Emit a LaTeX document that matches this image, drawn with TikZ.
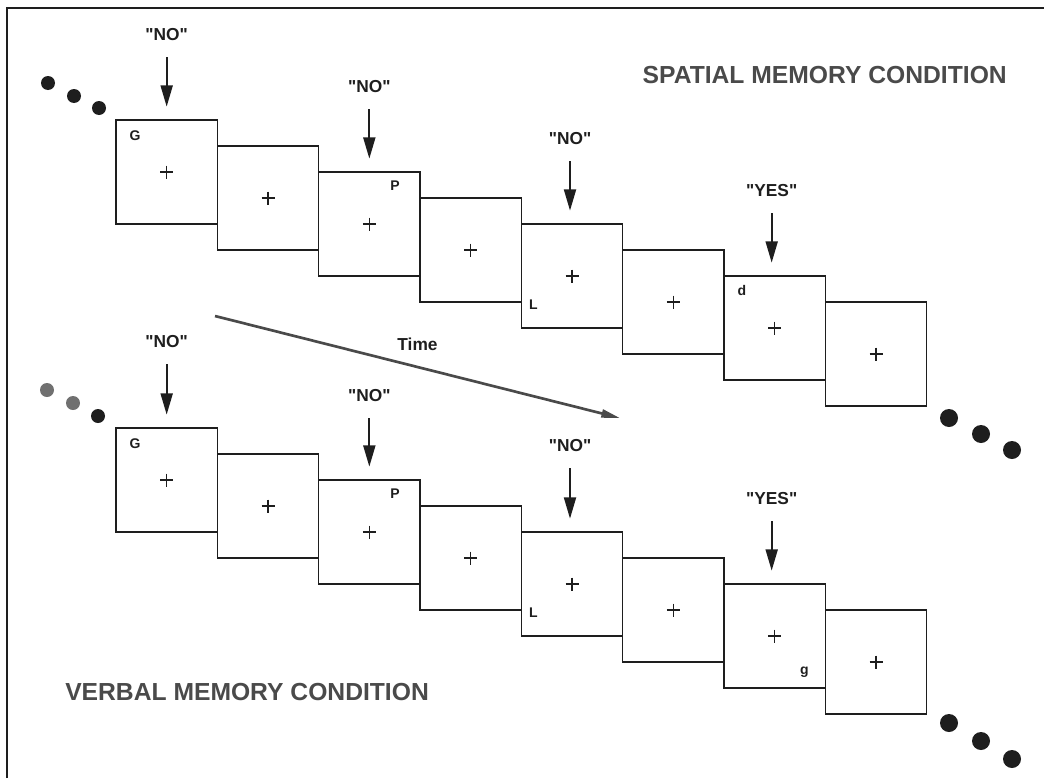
\documentclass[tikz,border=0pt]{standalone}
\usepackage{fontspec}
\setmainfont{Liberation Sans}
\usetikzlibrary{arrows.meta, positioning, calc}
\definecolor{ink}{HTML}{1E1E1E}
\definecolor{inkSoft}{HTML}{4A4A4A}
\definecolor{dotGray}{HTML}{707070}
\newcommand{\qt}[1]{\textquotedbl#1\textquotedbl}
\tikzset{
  frame/.style={
    rectangle, draw=ink, line width=1pt, minimum width=76pt, minimum height=78pt,
    inner sep=0pt, outer sep=0pt, anchor=north west
  },
  letter/.style={font=\fontsize{10.5}{12}\selectfont\bfseries, text=ink, inner sep=0pt},
  resp/.style={font=\fontsize{13}{15}\selectfont\bfseries, text=ink, inner sep=0pt},
  cond/.style={font=\fontsize{18.5}{22}\selectfont\bfseries, text=inkSoft, inner sep=0pt},
  arr/.style={-{Triangle[length=16pt, width=9pt]}, line width=1.5pt, draw=ink,
    shorten <=12pt, shorten >=10pt},
  timearr/.style={-{Triangle[length=14pt, width=6pt]}, line width=2pt, draw=inkSoft},
  pics/fixation/.style={code={\draw[line width=0.8pt, ink] (-6.5,0) -- (6.5,0) (0,-6.5) -- (0,6.5);}}
}

\begin{document}
\begin{tikzpicture}[x=0.75pt, y=-0.75pt]
\useasboundingbox (0,0) rectangle (1044,778);

% ---------------- Page frame ----------------
\draw[line width=1pt, ink] (7,778) -- (7,8) -- (1044,8);

% ---------------- Spatial row ----------------
\node[frame] (s1) at (116,120) {};
\node[frame] (s2) at ($(s1.north east)+(0,26)$) {};
\node[frame] (s3) at ($(s2.north east)+(0,26)$) {};
\node[frame] (s4) at ($(s3.north east)+(0,26)$) {};
\node[frame] (s5) at ($(s4.north east)+(0,26)$) {};
\node[frame] (s6) at ($(s5.north east)+(0,26)$) {};
\node[frame] (s7) at ($(s6.north east)+(0,26)$) {};
\node[frame] (s8) at ($(s7.north east)+(0,26)$) {};

% ---------------- Verbal row ----------------
\node[frame] (v1) at (116,428) {};
\node[frame] (v2) at ($(v1.north east)+(0,26)$) {};
\node[frame] (v3) at ($(v2.north east)+(0,26)$) {};
\node[frame] (v4) at ($(v3.north east)+(0,26)$) {};
\node[frame] (v5) at ($(v4.north east)+(0,26)$) {};
\node[frame] (v6) at ($(v5.north east)+(0,26)$) {};
\node[frame] (v7) at ($(v6.north east)+(0,26)$) {};
\node[frame] (v8) at ($(v7.north east)+(0,26)$) {};

\foreach \b in {s1,s2,s3,s4,s5,s6,s7,s8,v1,v2,v3,v4,v5,v6,v7,v8}
  \pic at (\b) {fixation};

% ---------------- Letters ----------------
\node[letter] (sG) at ($(s1.north west)+(19,16)$) {G};
\node[letter] (sP) at ($(s3.north east)+(-25,14)$) {P};
\node[letter] (sL) at ($(s5.south west)+(12,-23)$) {L};
\node[letter] (sd) at ($(s7.north west)+(18,14)$) {d};
\node[letter] (vG) at ($(v1.north west)+(19,16)$) {G};
\node[letter] (vP) at ($(v3.north east)+(-25,14)$) {P};
\node[letter] (vL) at ($(v5.south west)+(12,-23)$) {L};
\node[letter] (vg) at ($(v7.south east)+(-21,-16)$) {g};

% ---------------- Responses ----------------
\node[resp] (sno1) at ($(s1.north)+(0,-85)$) {\qt{NO}};
\node[resp] (sno3) at ($(s3.north)+(0,-85)$) {\qt{NO}};
\node[resp] (sno5) at ($(s5.north)+(-2,-85)$) {\qt{NO}};
\node[resp] (syes7) at ($(s7.north)+(-3,-85)$) {\qt{YES}};
\node[resp] (vno1) at ($(v1.north)+(0,-86)$) {\qt{NO}};
\node[resp] (vno3) at ($(v3.north)+(0,-84)$) {\qt{NO}};
\node[resp] (vno5) at ($(v5.north)+(-2,-86)$) {\qt{NO}};
\node[resp] (vyes7) at ($(v7.north)+(-3,-85)$) {\qt{YES}};

\draw[arr] (sno1) -- (sno1 |- s1.north);
\draw[arr] (sno3) -- (sno3 |- s3.north);
\draw[arr] (sno5) -- (sno5 |- s5.north);
\draw[arr] (syes7) -- (syes7 |- s7.north);
\draw[arr] (vno1) -- (vno1 |- v1.north);
\draw[arr] (vno3) -- (vno3 |- v3.north);
\draw[arr] (vno5) -- (vno5 |- v5.north);
\draw[arr] (vyes7) -- (vyes7 |- v7.north);

% ---------------- Time ----------------
\coordinate (tstart) at (215,316);
\coordinate (tend) at (620,418);
\draw[timearr] (tstart) -- node[resp, above=11pt] (time) {Time} (tend);

% ---------------- Ellipsis dots ----------------
\fill[ink] (48,83) circle (7) (74,96) circle (7) (99,108) circle (7);
\fill[ink] (949,418) circle (9) (981,434) circle (9) (1012,450) circle (9);
\fill[dotGray] (47,390) circle (7) (73,403) circle (7);
\fill[ink] (98,416) circle (7);
\fill[ink] (949,723) circle (9) (981,741) circle (9) (1012,759) circle (9);

% ---------------- Conditions ----------------
\node[cond, anchor=base east] (spatial) at (1007,83) {SPATIAL MEMORY CONDITION};
\node[cond, anchor=base west] (verbal) at (65,700) {VERBAL MEMORY CONDITION};

\end{tikzpicture}
\end{document}
